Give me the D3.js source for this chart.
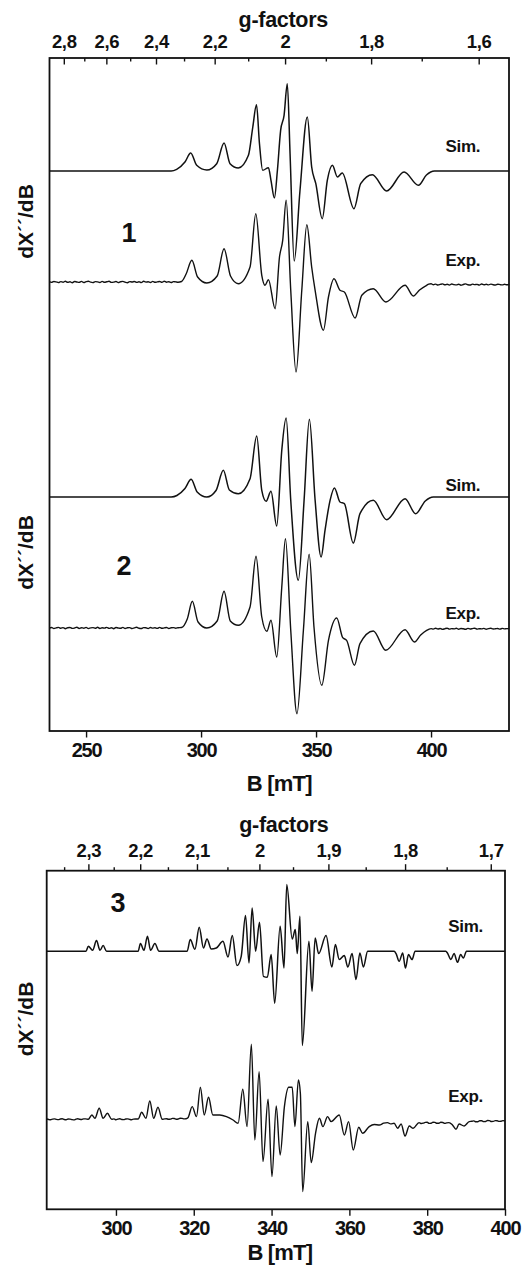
<!DOCTYPE html>
<html>
<head>
<meta charset="utf-8">
<script src="https://cdn.jsdelivr.net/npm/d3@7"></script>
<style>
  body { margin: 0; background: #fff; }
  text { font-family: "Liberation Sans", Arial, sans-serif; font-weight: bold; fill: #111; }
</style>
</head>
<body>
<div id="DataVis"></div>
<script>
// spectra as [B (mT), dX''/dB (a.u.)] pairs
var sim1 = [[234,0],[287,0],[289.4,1.7],[293,9],[295.5,18],[298.1,5.7],[302.5,1],[306.8,7.3],[310,28],[312.6,7.3],[316.2,3],[320.6,15.7],[322.5,44],[324.1,66.3],[325.4,27.3],[326.8,0.7],[329.3,3.3],[330.4,-9.3],[331.9,-27],[333.2,0.7],[334.6,40.7],[336.1,55.7],[337.5,87.3],[338.7,17.3],[340.5,-90],[343,-20],[346.2,54],[348.1,4],[349.9,-12.7],[352.7,-47.7],[354.9,-9.3],[357.1,5.7],[359.3,-6],[361.4,-2],[366.5,-37.7],[369.4,-12.7],[374.5,-3.7],[380.7,-20],[388.3,-1],[394.5,-14.3],[398,-4],[401.5,0],[434,0]];

var exp1 = [[234,0.3],[235,-0.4],[236,0.5],[237,0.1],[238,-0.6],[239,0.4],[240,-0.2],[241,0.7],[242,-0.3],[243,0.2],[244,-0.7],[245,0.5],[246,0],[247,-0.4],[248,0.6],[249,-0.5],[250,0.3],[251,0.8],[252,-0.2],[253,-0.6],[254,0.4],[255,0.1],[256,-0.5],[257,0.6],[258,-0.3],[259,0.2],[260,0.7],[261,-0.4],[262,-0.1],[263,0.5],[264,-0.6],[265,0.3],[266,0.6],[267,-0.2],[268,-0.7],[269,0.4],[270,0],[271,0.5],[272,-0.4],[273,0.3],[274,-0.6],[275,0.7],[276,-0.1],[277,0.2],[278,-0.5],[279,0.6],[280,-0.3],[281,0.1],[282,0.5],[283,-0.4],[284,0.8],[285,-0.2],[286,0.3],[287,-0.5],[288,0.4],[289,0.1],[290,-0.2],
  [291.5,0.5],[293.5,8],[296,21.7],[298.5,5],[302.5,-1],[307,6],[310,33.3],[312.8,6],[316.2,-1.7],[321.3,15],[323.8,68.3],[326.4,6.7],[327.8,-3.3],[329.3,2.3],[332.2,-26.7],[334.1,25],[335.5,41.7],[337,81.7],[339,-8.3],[341.3,-90],[343.8,-8.3],[346,57.3],[348.1,15],[349.6,-8.3],[353.2,-48.3],[355.4,-15],[357.8,3.3],[360.4,-8.3],[362.3,-10],[367,-36],[369.9,-13.3],[374.9,-6.7],[380.4,-20],[388.7,-3.3],[392.3,-14],[395,-8],[398.1,-3.3],
  [399,-2.2],[400,-1.8],[401,-2.7],[402,-2.1],[403,-3],[404,-2.4],[405,-1.9],[406,-2.8],[407,-2.3],[408,-3.1],[409,-2],[410,-2.6],[411,-2.9],[412,-2.2],[413,-3.2],[414,-2.5],[415,-1.9],[416,-2.7],[417,-3],[418,-2.1],[419,-2.6],[420,-2.4],[421,-3.1],[422,-2],[423,-2.8],[424,-2.3],[425,-2.9],[426,-2.1],[427,-2.7],[428,-3],[429,-2.2],[430,-2.6],[431,-2.9],[432,-2.3],[433,-2.8],[434,-2.5]];

var sim2 = [[234,0],[287,0],[289.5,1.5],[293,8.5],[295.7,17.7],[298.3,5],[302.5,0],[306.5,6.5],[309.7,26.7],[312.3,7],[316.2,3.3],[321.3,18.3],[324.2,61],[326.4,6.7],[328.3,-4.3],[330.4,5.7],[332.9,-29],[335.1,46.7],[337,79],[339,-3.3],[342.3,-83.3],[344.8,-3.3],[347.1,77.7],[349.6,-3.3],[352.2,-60],[353.9,-33.3],[356.1,-3.3],[358,9],[360.4,-5],[362.3,-6.7],[366.2,-46],[369.1,-16.7],[374.9,-3.3],[380.7,-22.7],[388.7,-1.7],[393.3,-16.7],[397.5,-4],[401,0],[434,0]];

var exp2 = [[234,-0.2],[235,0.5],[236,-0.6],[237,0.1],[238,0.6],[239,-0.3],[240,0.4],[241,-0.7],[242,0.2],[243,0.5],[244,-0.4],[245,0],[246,0.7],[247,-0.5],[248,0.3],[249,-0.2],[250,0.6],[251,-0.6],[252,0.1],[253,0.4],[254,-0.3],[255,0.7],[256,-0.5],[257,0.2],[258,-0.1],[259,0.6],[260,-0.4],[261,0.3],[262,-0.7],[263,0.5],[264,0],[265,-0.3],[266,0.6],[267,-0.5],[268,0.2],[269,0.4],[270,-0.6],[271,0.1],[272,0.7],[273,-0.2],[274,-0.5],[275,0.4],[276,0.2],[277,-0.6],[278,0.5],[279,-0.1],[280,0.3],[281,-0.4],[282,0.6],[283,-0.3],[284,0.1],[285,0.5],[286,-0.5],[287,0.2],[288,0.4],[289,-0.2],[290,0.3],
  [291.5,0.5],[294,9],[296.2,26.7],[298.7,6],[302.5,0],[307,7],[310,36.7],[312.7,7],[316.2,2.7],[321.3,21],[323.9,71.7],[326.4,11],[328.6,-3.3],[330.4,7.7],[332.9,-29],[335.1,41],[336.7,89.3],[339,-2.3],[341.7,-85.7],[344.5,-2.3],[347,73.7],[349.1,1],[352.5,-57.3],[355.4,-12.3],[359,10],[361.6,-9.7],[363.3,-12.3],[366.7,-37.3],[369.1,-15.7],[374.9,-3],[380.3,-22.3],[388.7,-1.7],[392.8,-14],[395.5,-7],[398.1,-2.3],
  [399,-1.3],[400,-0.6],[401,-1.1],[402,-0.3],[403,-1],[404,-0.5],[405,-1.4],[406,-0.7],[407,-0.2],[408,-1.1],[409,-0.6],[410,-0.9],[411,-0.3],[412,-1.2],[413,-0.5],[414,-0.8],[415,-1.3],[416,-0.4],[417,-1],[418,-0.6],[419,-0.2],[420,-1.1],[421,-0.7],[422,-0.9],[423,-0.4],[424,-1.2],[425,-0.6],[426,-0.3],[427,-1],[428,-0.8],[429,-0.5],[430,-1.1],[431,-0.4],[432,-0.9],[433,-0.6],[434,-0.7]];

var sim3 = [[282.2,0],[292.3,0],[292.9,5],[294,1],[295,10.7],[295.9,1],[296.7,5.7],[297.6,0],[305.7,0],[306.3,7.7],[307.2,1],[308.1,15],[308.9,1],[310,7.7],[311.1,0],[318.3,0],[319.1,11.7],[320.3,2],[321.4,24],[322.5,3.3],[323.4,12.3],[324.5,2.3],[325.8,3.3],[327.5,10],[328.8,-5.7],[329.9,15.7],[331.1,-14.3],[332.2,-5],[333.3,35.7],[334.2,-11.7],[335,43.3],[335.9,0],[336.9,29],[337.9,-25],[338.9,-26],[339.9,-3.3],[340.8,-52],[342.2,25],[343.2,-16.7],[343.9,66.7],[345.3,12.3],[346.1,21.7],[346.6,-2.3],[347.3,35],[347.9,-94.3],[349.6,10],[350.4,-40],[351.2,13.3],[352.1,-2.3],[354,15.7],[355.5,-15.7],[356.4,6.7],[357.4,-8.3],[358.7,-4.3],[359.6,-15.7],[360.7,-2.3],[361.7,-28.3],[362.7,-1.7],[363.6,-15.7],[364.7,0],[371.5,0],[372,-2.3],[372.8,-10],[373.7,-1.7],[374.4,-16.7],[375.2,-3.3],[376.1,-8.3],[376.9,0],[384.8,0],[385.2,-1.7],[386.1,-8.3],[386.9,-2.3],[387.8,-11],[388.6,-3.3],[389.3,-6.7],[390.1,0],[400,0]];

var exp3 = [[282.2,0.3],[282.7,-0.2],[283.2,-0.5],[283.7,0.2],[284.2,0.4],[284.7,-0.1],[285.2,-0.3],[285.7,0.3],[286.2,0.6],[286.7,-0.2],[287.2,-0.4],[287.7,0.3],[288.2,0.2],[288.7,-0.3],[289.2,-0.6],[289.7,0.1],[290.2,0.5],[290.7,0],[291.2,-0.2],[291.7,0.4],[292.2,0.4],
  [292.9,0],[293.8,4.3],[294.6,1],[295.7,11],[296.7,1],[297.8,6],[298.9,0],
  [299.5,0.4],[300,-0.4],[300.5,0.2],[301,0.5],[301.5,-0.2],[302,-0.3],[302.5,0.3],[303,0.4],[303.5,-0.1],[304,-0.5],[304.5,0.2],[305,0.3],
  [305.7,0.3],[306.6,7],[307.7,1],[308.7,18.3],[309.7,1],[310.8,12],[311.9,0],
  [312.5,0.4],[313,0.6],[313.5,0],[314,0.2],[314.5,0.9],[315,0.8],[315.5,0.1],[316,0.3],[316.5,1],[317,0.9],[317.5,0.4],[318,0.6],
  [318.5,1.5],[319.6,12.7],[320.7,2.7],[321.7,32],[322.7,4.3],[323.8,22],[324.9,4.3],[326.7,4.3],[328.4,2.7],[330.1,-0.7],[331.4,-4],[332.6,30],[333.7,-7.3],[334.8,75],[335.7,-20.7],[336.8,47.7],[337.8,-42.3],[339.1,20],[340.1,-57.3],[341.2,13.3],[342.2,-35.7],[343.3,12.7],[344.4,32],[345.3,32],[346,-7.3],[346.9,39.3],[347.4,26],[348,-72.3],[349.3,-2.3],[350.2,-43.3],[351.3,-14],[352.3,1],[353.2,-7.3],[354.4,2.7],[355.3,-2.3],[357.4,4.3],[358.7,-15.7],[359.8,-2.3],[361,-30.7],[362.4,-8],[363.4,-14],[365.1,-7.3],[366.4,-5.2],[367.7,-5.7],[368.8,-3.9],[369.8,-3.3],[370.6,-4.6],[371.5,-4],[372.4,-9],[373.3,-4.7],[374.3,-16.7],[375.4,-6.7],[376.4,-9],[377.9,-3.3],
  [378.5,-4.2],[379,-3.8],[379.5,-3.1],[380,-3],[380.5,-4.1],[381,-3.9],[381.5,-2.9],[382,-3.1],[382.5,-4],[383,-4],[383.5,-3],[384,-3.2],[384.5,-4.1],[385,-3.6],
  [385.6,-3.3],[386.5,-5.7],[387.4,-10],[388.2,-4.7],[389.5,-6.7],[390.8,-2.3],
  [391.5,-2],[392,-1.6],[392.5,-2.5],[393,-2.4],[393.5,-1.4],[394,-1.5],[394.5,-2.3],[395,-2.2],[395.5,-1.2],[396,-1.3],[396.5,-2.2],[397,-2.1],[397.5,-1.3],[398,-1.4],[398.5,-2.1],[399,-2],[399.5,-1.3],[400,-1.7]];

// trace offsets (a.u.) and labels
var tracesA = [
  {name: "Sim.", values: sim1, offset: 560},
  {name: "Exp.", values: exp1, offset: 449},
  {name: "Sim.", values: sim2, offset: 234},
  {name: "Exp.", values: exp2, offset: 103}
];
var traces3 = [
  {name: "Sim.", values: sim3, offset: 258},
  {name: "Exp.", values: exp3, offset: 90}
];

// axis ticks
var bTicksA = [250, 300, 350, 400];
var bMinorA = [275, 325, 375, 425];
var gTicksA = [2.8, 2.6, 2.4, 2.2, 2, 1.8, 1.6];
var gMinorA = [2.7, 2.5, 2.3, 2.1, 1.9, 1.7];
var bTicks3 = [300, 320, 340, 360, 380, 400];
var bMinor3 = [290, 310, 330, 350, 370, 390];
var gTicks3 = [2.3, 2.2, 2.1, 2, 1.9, 1.8, 1.7];
var gMinor3 = [2.35, 2.25, 2.15, 2.05, 1.95, 1.85, 1.75];

// h*nu/muB in mT for each measurement (B = K / g)
var kA = 673.5, k3 = 674;

var gFormat = d3.formatLocale({decimal: ",", thousands: ".", grouping: [3], currency: ["", ""]}).format("~g");

var svg = d3.select("#DataVis")
    .append("svg")
    .attr("width", 527)
    .attr("height", 1272)

var line = function(x, y, off) {
    return d3.line()
        .x(function(d) { return x(d[0]); })
        .y(function(d) { return y(d[1] + off); })
        .curve(d3.curveMonotoneX);
}

function drawPanel(p) {
    var g = svg.append("g");

    // curves
    p.traces.forEach(function(t, i) {
        g.append("path")
            .datum(t.values)
            .attr("fill", "none")
            .attr("stroke", "#111")
            .attr("stroke-width", t.name == "Sim." ? 1.5 : 1.4)
            .attr("stroke-linejoin", "round")
            .attr("d", line(p.x, p.y, t.offset));
        g.append("text")
            .attr("x", p.x(p.labelB))
            .attr("y", p.y(t.offset + p.labelLift[i]))
            .attr("font-size", 17)
            .attr("letter-spacing", -0.3)
            .text(t.name);
    });

    // bottom axis
    var bottom = g.append("g").attr("transform", "translate(0," + p.y.range()[0] + ")");
    bottom.call(d3.axisBottom(p.x).tickValues(p.bMinor).tickSize(4).tickFormat(""));
    bottom.call(d3.axisBottom(p.x).tickValues(p.bTicks).tickSize(6.5).tickPadding(5));
    bottom.selectAll(".domain").remove();
    bottom.selectAll("line").attr("stroke", "#111").attr("stroke-width", 1.4);
    bottom.selectAll("text")
        .attr("font-size", 20)
        .attr("letter-spacing", -1.2)
        .attr("font-family", null)
        .attr("fill", "#111");

    // top g-factor axis
    var top = p.y.range()[1];
    var dir = p.gInside ? 1 : -1;
    g.selectAll(".gminor")
        .data(p.gMinor)
        .join("line")
        .attr("x1", function(d) { return p.x(p.k / d); })
        .attr("x2", function(d) { return p.x(p.k / d); })
        .attr("y1", top)
        .attr("y2", top + dir * 3.5)
        .attr("stroke", "#111")
        .attr("stroke-width", 1.4);
    g.selectAll(".gmajor")
        .data(p.gTicks)
        .join("line")
        .attr("x1", function(d) { return p.x(p.k / d); })
        .attr("x2", function(d) { return p.x(p.k / d); })
        .attr("y1", top)
        .attr("y2", top + dir * 6.5)
        .attr("stroke", "#111")
        .attr("stroke-width", 1.4);
    g.selectAll(".glabel")
        .data(p.gTicks)
        .join("text")
        .attr("x", function(d) { return p.x(p.k / d); })
        .attr("y", p.gLabelY)
        .attr("text-anchor", "middle")
        .attr("font-size", 18.5)
        .attr("letter-spacing", -0.3)
        .text(gFormat);

    // frame
    g.append("rect")
        .attr("x", p.x.range()[0])
        .attr("y", top)
        .attr("width", p.x.range()[1] - p.x.range()[0])
        .attr("height", p.y.range()[0] - top)
        .attr("fill", "none")
        .attr("stroke", "#111")
        .attr("stroke-width", 1.8);

    // titles
    var cx = (p.x.range()[0] + p.x.range()[1]) / 2;
    g.append("text")
        .attr("x", cx + p.titleShift)
        .attr("y", p.gTitleY)
        .attr("text-anchor", "middle")
        .attr("font-size", 21.5)
        .attr("letter-spacing", -0.3)
        .text("g-factors");
    g.append("text")
        .attr("x", cx + p.titleShift - 4)
        .attr("y", p.bTitleY)
        .attr("text-anchor", "middle")
        .attr("font-size", 22)
        .attr("letter-spacing", -0.8)
        .text("B [mT]");

    p.yLabels.forEach(function(yc) {
        g.append("text")
            .attr("transform", "translate(33," + yc + ") rotate(-90)")
            .attr("text-anchor", "middle")
            .attr("font-size", 21)
            .text("dX\u00B4\u00B4/dB");
    });

    p.numbers.forEach(function(n) {
        g.append("text")
            .attr("x", n.x)
            .attr("y", n.y)
            .attr("text-anchor", "middle")
            .attr("font-size", 27)
            .text(n.text);
    });
}

drawPanel({
    x: d3.scaleLinear().domain([234.1, 433.9]).range([49.5, 509]),
    y: d3.scaleLinear().domain([0, 673]).range([731, 58]),
    traces: tracesA,
    labelB: 406.3,
    labelLift: [19, 16.5, 6.5, 9.5],
    bTicks: bTicksA, bMinor: bMinorA,
    gTicks: gTicksA, gMinor: gMinorA, k: kA,
    gInside: true,
    gLabelY: 48,
    gTitleY: 26.5,
    bTitleY: 791,
    titleShift: 4,
    yLabels: [221.5, 552.5],
    numbers: [{text: "1", x: 129, y: 241.5}, {text: "2", x: 124, y: 575}]
});

drawPanel({
    x: d3.scaleLinear().domain([282.2, 400]).range([46.7, 505]),
    y: d3.scaleLinear().domain([0, 338.6]).range([1209.3, 870.7]),
    traces: traces3,
    labelB: 385.4,
    labelLift: [19.4, 17.6],
    bTicks: bTicks3, bMinor: bMinor3,
    gTicks: gTicks3, gMinor: gMinor3, k: k3,
    gInside: false,
    gLabelY: 856.5,
    gTitleY: 832,
    bTitleY: 1260,
    titleShift: 8,
    yLabels: [1019],
    numbers: [{text: "3", x: 118, y: 911.5}]
});
</script>
</body>
</html>
